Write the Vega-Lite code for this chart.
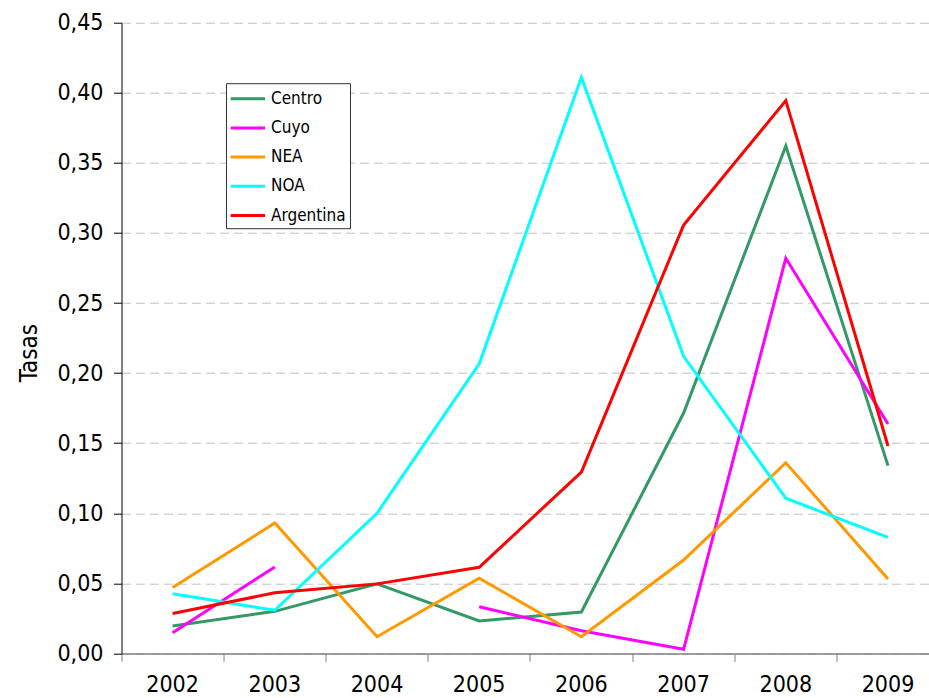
{
  "$schema": "https://vega.github.io/schema/vega-lite/v6.json",
  "autosize": {"type": "none"},
  "width": 807.5,
  "height": 630.7,
  "padding": {"left": 121.5, "top": 22.7, "right": 0, "bottom": 44.6},
  "background": "white",
  "config": {
    "view": {"stroke": null},
    "font": "'Liberation Sans Narrow', 'DejaVu Sans Condensed', sans-serif"
  },
  "data": {
    "values": [
      {"anio": "2002", "region": "Centro", "tasa": 0.0195},
      {"anio": "2003", "region": "Centro", "tasa": 0.030},
      {"anio": "2004", "region": "Centro", "tasa": 0.0496},
      {"anio": "2005", "region": "Centro", "tasa": 0.0231},
      {"anio": "2006", "region": "Centro", "tasa": 0.0295},
      {"anio": "2007", "region": "Centro", "tasa": 0.1715},
      {"anio": "2008", "region": "Centro", "tasa": 0.362},
      {"anio": "2009", "region": "Centro", "tasa": 0.134},
      {"anio": "2002", "region": "Cuyo", "tasa": 0.0147},
      {"anio": "2003", "region": "Cuyo", "tasa": 0.0617},
      {"anio": "2004", "region": "Cuyo", "tasa": null},
      {"anio": "2005", "region": "Cuyo", "tasa": 0.0333},
      {"anio": "2006", "region": "Cuyo", "tasa": 0.0162},
      {"anio": "2007", "region": "Cuyo", "tasa": 0.0029},
      {"anio": "2008", "region": "Cuyo", "tasa": 0.282},
      {"anio": "2009", "region": "Cuyo", "tasa": 0.1637},
      {"anio": "2002", "region": "NEA", "tasa": 0.047},
      {"anio": "2003", "region": "NEA", "tasa": 0.093},
      {"anio": "2004", "region": "NEA", "tasa": 0.0119},
      {"anio": "2005", "region": "NEA", "tasa": 0.0536},
      {"anio": "2006", "region": "NEA", "tasa": 0.0119},
      {"anio": "2007", "region": "NEA", "tasa": 0.0666},
      {"anio": "2008", "region": "NEA", "tasa": 0.136},
      {"anio": "2009", "region": "NEA", "tasa": 0.0531},
      {"anio": "2002", "region": "NOA", "tasa": 0.0425},
      {"anio": "2003", "region": "NOA", "tasa": 0.0308},
      {"anio": "2004", "region": "NOA", "tasa": 0.100},
      {"anio": "2005", "region": "NOA", "tasa": 0.2066},
      {"anio": "2006", "region": "NOA", "tasa": 0.411},
      {"anio": "2007", "region": "NOA", "tasa": 0.212},
      {"anio": "2008", "region": "NOA", "tasa": 0.1107},
      {"anio": "2009", "region": "NOA", "tasa": 0.0828},
      {"anio": "2002", "region": "Argentina", "tasa": 0.0285},
      {"anio": "2003", "region": "Argentina", "tasa": 0.0432},
      {"anio": "2004", "region": "Argentina", "tasa": 0.0496},
      {"anio": "2005", "region": "Argentina", "tasa": 0.0614},
      {"anio": "2006", "region": "Argentina", "tasa": 0.1294},
      {"anio": "2007", "region": "Argentina", "tasa": 0.3056},
      {"anio": "2008", "region": "Argentina", "tasa": 0.3944},
      {"anio": "2009", "region": "Argentina", "tasa": 0.148}
    ]
  },
  "mark": {"type": "line", "strokeWidth": 3, "clip": true},
  "encoding": {
    "x": {
      "field": "anio",
      "type": "ordinal",
      "bandPosition": 0.5,
      "scale": {"type": "band", "paddingInner": 0, "paddingOuter": 0, "range": [0, 817.6]},
      "axis": {
        "title": null,
        "bandPosition": 0,
        "labelAngle": 0,
        "labelFontSize": 23,
        "labelColor": "#000",
        "labelPadding": 12,
        "labelOverlap": false,
        "labelBaseline": "top",
        "tickSize": 8,
        "tickColor": "#808080",
        "tickWidth": 1,
        "domainColor": "#808080",
        "domainWidth": 1.5,
        "grid": false
      }
    },
    "y": {
      "field": "tasa",
      "type": "quantitative",
      "scale": {"domain": [0, 0.45], "nice": false, "zero": true},
      "axis": {
        "title": "Tasas",
        "titleFontSize": 24,
        "titleFontWeight": "normal",
        "titleColor": "#000",
        "titleX": -85.2,
        "titleY": 330,
        "titleAngle": -90,
        "titleAlign": "center",
        "titleBaseline": "alphabetic",
        "values": [0, 0.05, 0.1, 0.15, 0.2, 0.25, 0.3, 0.35, 0.4, 0.45],
        "labelExpr": "replace(format(datum.value, '.2f'), '.', ',')",
        "labelFontSize": 23,
        "labelColor": "#000",
        "labelPadding": 10.5,
        "tickSize": 8,
        "tickColor": "#000",
        "domainColor": "#000",
        "grid": true,
        "gridColor": "#c0c0c0",
        "gridDash": [9, 5],
        "gridWidth": 1
      }
    },
    "color": {
      "field": "region",
      "type": "nominal",
      "sort": ["Centro", "Cuyo", "NEA", "NOA", "Argentina"],
      "scale": {
        "domain": ["Centro", "Cuyo", "NEA", "NOA", "Argentina"],
        "range": ["#339966", "#FF00FF", "#FF9900", "#00FFFF", "#FF0000"]
      },
      "legend": {
        "title": null,
        "orient": "none",
        "legendX": 104.5,
        "legendY": 60.5,
        "fillColor": "#ffffff",
        "strokeColor": "#333333",
        "padding": 4,
        "symbolType": "M-1.08,0H2.35",
        "symbolSize": 400,
        "symbolStrokeWidth": 3,
        "labelFontSize": 17,
        "labelColor": "#000",
        "labelOffset": 18,
        "rowPadding": 9.2
      }
    }
  }
}
